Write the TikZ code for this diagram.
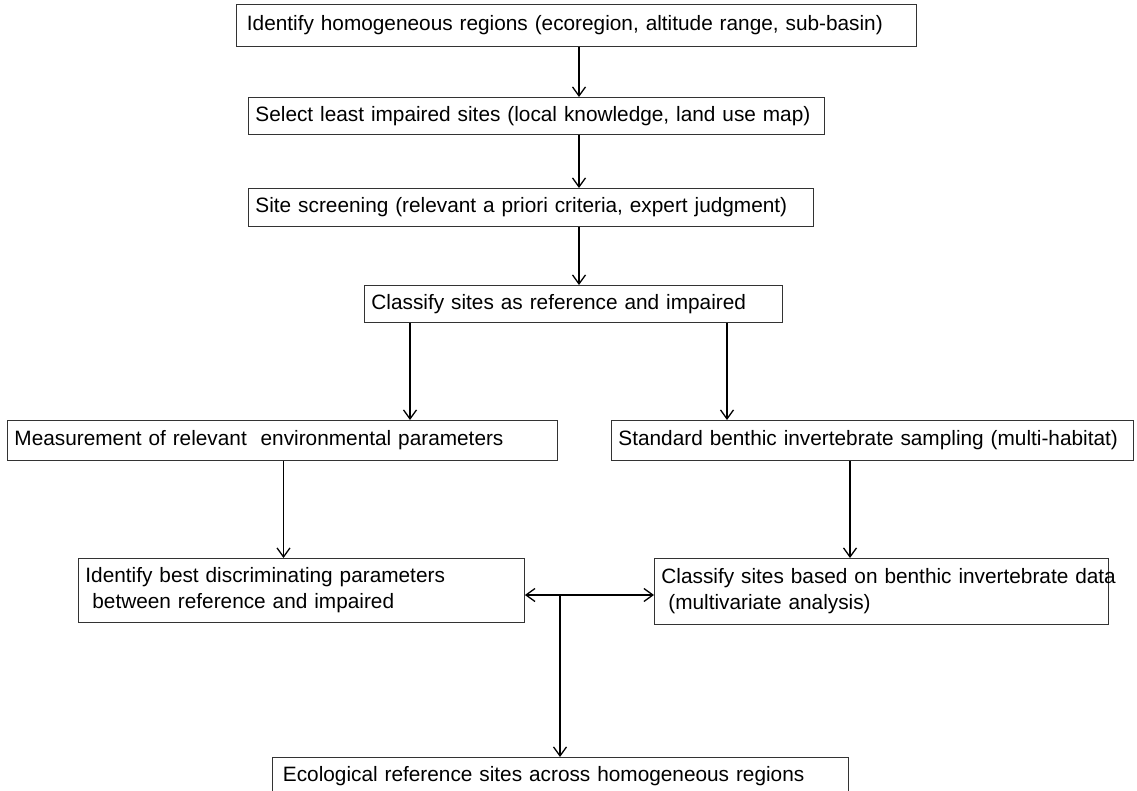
\documentclass[tikz,border=0pt]{standalone}
\usepackage{fontspec}
\setmainfont{Liberation Sans}
\usetikzlibrary{arrows.meta,positioning,calc}
\tikzset{
  box/.style={draw=black!80, line width=0.9pt, anchor=north west, align=left,
    inner xsep=7pt, inner ysep=0pt, font=\fontsize{20.8}{26}\selectfont},
  arr/.style={-{Straight Barb[length=9pt,width=13pt,line width=1.3pt]}, line width=1.4pt},
  darr/.style={{Straight Barb[length=9pt,width=13pt,line width=1.3pt]}-{Straight Barb[length=9pt,width=13pt,line width=1.3pt]}, line width=1.4pt},
}
\begin{document}
\begin{tikzpicture}[x=1pt, y=-1pt]
\useasboundingbox (0,0) rectangle (1137,791);
% boxes
\node[box, minimum width=680pt, minimum height=42pt, text width=666pt] (b1) at (236,4)
  {\mbox{\,Identify homogeneous regions (ecoregion, altitude range, sub-basin)}};
\node[box, minimum width=576pt, minimum height=37pt, text width=562pt] (b2) at (248,97)
  {\mbox{Select least impaired sites (local knowledge, land use map)}};
\node[box, minimum width=565pt, minimum height=38pt, text width=551pt] (b3) at (248,188)
  {\mbox{Site screening (relevant a priori criteria, expert judgment)}};
\node[box, minimum width=418pt, minimum height=37pt, text width=404pt] (b4) at (364,285)
  {\mbox{Classify sites as reference and impaired}};
\node[box, minimum width=550pt, minimum height=40pt, text width=536pt] (b5) at (7,420)
  {\mbox{Measurement of relevant\ \ environmental parameters}};
\node[box, minimum width=522pt, minimum height=40pt, text width=508pt] (b6) at (611,420)
  {\mbox{Standard benthic invertebrate sampling (multi-habitat)}};
\node[box, minimum width=446pt, minimum height=64pt, text width=432pt] (b7) at (78,558)
  {\mbox{Identify best discriminating parameters}\\\mbox{\ between reference and impaired}};
\node[box, minimum width=454pt, minimum height=66pt, text width=440pt] (b8) at (654,558)
  {\mbox{Classify sites based on benthic invertebrate data}\\\mbox{\ (multivariate analysis)}};
\node[box, minimum width=576pt, minimum height=38pt, text width=562pt] (b9) at (272,757)
  {\mbox{\,Ecological reference sites across homogeneous regions}};
% connector columns
\coordinate (c1) at (579,0);
\coordinate (c2) at (283.5,0);
\coordinate (c3) at (410,0);
\coordinate (c4) at (727,0);
\coordinate (c5) at (850,0);
\coordinate (c6) at (560,595);
% connectors
\draw[arr] (b1.south -| c1) -- (b2.north -| c1);
\draw[arr] (b2.south -| c1) -- (b3.north -| c1);
\draw[arr] (b3.south -| c1) -- (b4.north -| c1);
\draw[arr] (b4.south -| c3) -- (b5.north -| c3);
\draw[arr] (b4.south -| c4) -- (b6.north -| c4);
\draw[arr] (b5.south -| c2) -- (b7.north -| c2);
\draw[arr] (b6.south -| c5) -- (b8.north -| c5);
\draw[darr] (b7.east |- c6) -- (b8.west |- c6);
\draw[arr] (c6) -- (b9.north -| c6);
\end{tikzpicture}
\end{document}
